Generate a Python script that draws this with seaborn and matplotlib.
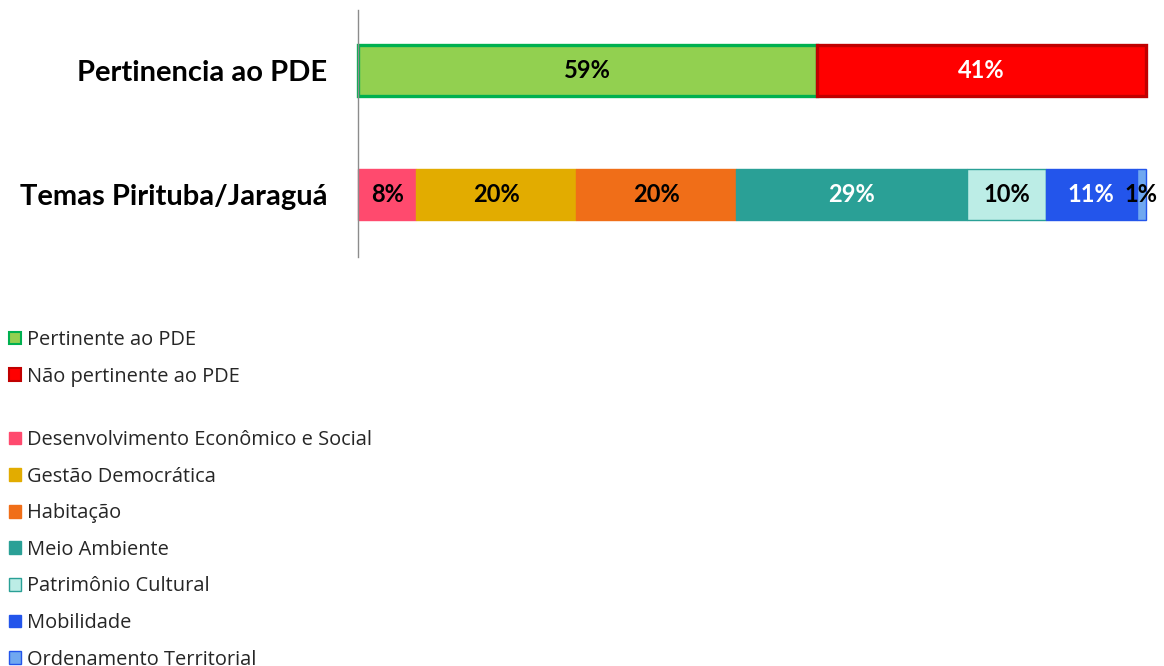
import matplotlib
matplotlib.use("Agg")
import matplotlib.pyplot as plt
from matplotlib.patches import Patch
import seaborn as sns

sns.set_theme(style="white")
plt.rcParams["font.family"] = ["Open Sans", "DejaVu Sans"]

# dados (%)
bar_names = ["Pertinencia ao PDE", "Temas Pirituba/Jaraguá"]

pde_labels = ["Pertinente ao PDE", "Não pertinente ao PDE"]
pde_values = [58.3, 41.7]
pde_pct = ["59%", "41%"]
pde_fill = ["#92D050", "#FF0000"]
pde_edge = ["#00B050", "#C00000"]
pde_text = ["black", "white"]

tema_labels = ["Desenvolvimento Econômico e Social", "Gestão Democrática", "Habitação",
               "Meio Ambiente", "Patrimônio Cultural", "Mobilidade", "Ordenamento Territorial"]
tema_values = [7.4, 20.3, 20.3, 29.3, 10.0, 11.5, 1.2]
tema_pct = ["8%", "20%", "20%", "29%", "10%", "11%", "1%"]
tema_fill = ["#FF4A6E", "#E2AC00", "#F06E18", "#2AA096", "#BCEDE6", "#2355EB", "#70A8F0"]
tema_edge = ["#FF4A6E", "#E2AC00", "#F06E18", "#2AA096", "#2AA096", "#2355EB", "#2355EB"]
tema_text = ["black", "black", "black", "white", "black", "white", "black"]

fig = plt.figure(figsize=(11.64, 6.66), dpi=100)
ax = fig.add_axes([358 / 1164, 1 - 257 / 666, 788 / 1164, 247 / 666])

h = 0.41

def stacked(y, values, pcts, fills, edges, texts, lw):
    left = 0
    for v, p, fc, ec, tc in zip(values, pcts, fills, edges, texts):
        ax.barh(y, v, left=left, height=h, color=fc, edgecolor=ec, linewidth=lw, clip_on=False)
        ax.text(left + v / 2, y, p, ha="center", va="center",
                color=tc, fontsize=17, fontweight="bold", family="Lato")
        left += v

stacked(0, pde_values, pde_pct, pde_fill, pde_edge, pde_text, 2.4)
stacked(1, tema_values, tema_pct, tema_fill, tema_edge, tema_text, 1.0)

ax.set_xlim(0, 100)
ax.set_ylim(1.5, -0.49)
ax.set_yticks([0, 1])
ax.set_yticklabels(bar_names, fontsize=21, fontweight="bold", family="Lato", color="black")
ax.tick_params(axis="y", length=0, pad=22)
ax.set_xticks([])
for s in ["top", "right", "bottom"]:
    ax.spines[s].set_visible(False)
ax.spines["left"].set_color("#8C8C8C")
ax.spines["left"].set_linewidth(1.0)

leg_kw = dict(frameon=False, loc="upper left", fontsize=14.4, borderpad=0,
              handlelength=0.6, handleheight=0.6, handletextpad=0.3,
              labelspacing=0.83, borderaxespad=0)

h1 = [Patch(facecolor=f, edgecolor=e, linewidth=1.5) for f, e in zip(pde_fill, pde_edge)]
fig.legend(h1, pde_labels, bbox_to_anchor=(9 / 1164, 1 - 330 / 666), **leg_kw)

h2 = [Patch(facecolor=f, edgecolor=e, linewidth=1.0) for f, e in zip(tema_fill, tema_edge)]
fig.legend(h2, tema_labels, bbox_to_anchor=(9 / 1164, 1 - 430 / 666), **leg_kw)

fig.savefig("out.png", dpi=100)
